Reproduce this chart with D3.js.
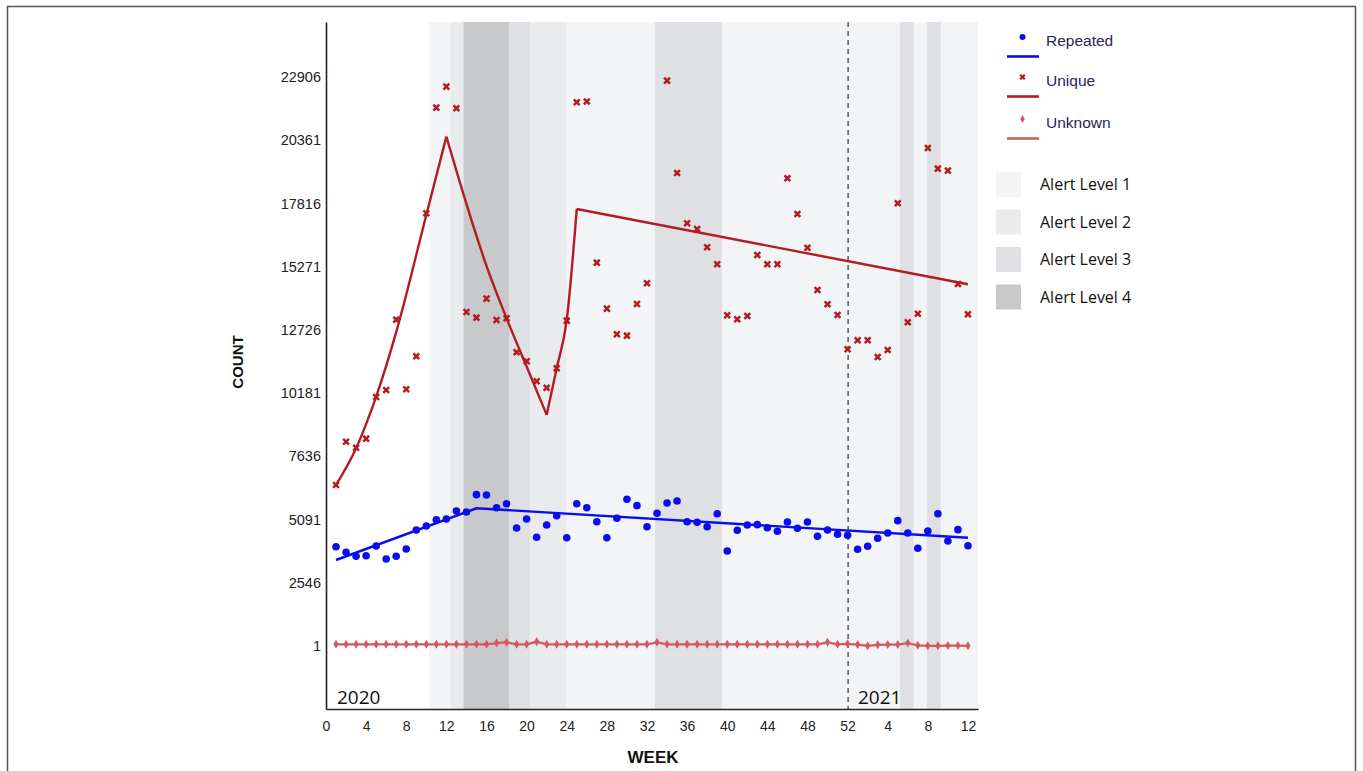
<!DOCTYPE html>
<html>
<head>
<meta charset="utf-8">
<script src="https://cdn.jsdelivr.net/npm/d3@7"></script>
<style>
  html, body { margin: 0; padding: 0; background: #fff; }
  svg { display: block; }
</style>
</head>
<body>
<svg id="chart" width="1363" height="771"></svg>
<script>
// Weekly counts, 2020 week 1 .. 2021 week 12 (index 53 = 2021 week 1)
const weeks = d3.range(1, 65);

const repeated = [
  3999, 3773, 3612, 3636, 4027, 3503, 3612, 3906, 4671, 4832,
  5086, 5114, 5436, 5396, 6093, 6080, 5569, 5730, 4752, 5114,
  4377, 4872, 5247, 4361, 5730, 5569, 5005, 4361, 5142, 5907,
  5650, 4804, 5343, 5758, 5839, 5005, 4981, 4804, 5327, 3826,
  4659, 4872, 4885, 4764, 4619, 4993, 4739, 4993, 4417, 4671,
  4498, 4458, 3894, 4015, 4337, 4550, 5046, 4550, 3934, 4631,
  5327, 4228, 4684, 4039
];

const unique = [
  6483, 8226, 7985, 8348, 10026, 10307, 13138, 10335, 11664, 17421,
  21673, 22518, 21648, 13448, 13219, 13984, 13126, 13193, 11825, 11463,
  10658, 10400, 11181, 13098, 21890, 21917, 15433, 13582, 12550, 12494,
  13770, 14603, null, 22760, 19044, 17019, 16790, 16052, 15368, 13315,
  13154, 13287, 15743, 15368, 15368, 18830, 17393, 16036, 14334, 13758,
  13327, 11946, 12309, 12309, 11636, 11918, 17824, 13033, 13379, 20050,
  19217, 19137, 14575, 13356
];

const unknown = [
  70, 70, 70, 70, 70, 70, 70, 70, 70, 70,
  70, 70, 70, 70, 70, 70, 120, 150, 70, 70,
  175, 70, 70, 70, 70, 70, 70, 70, 70, 70,
  70, 70, 150, 70, 70, 70, 70, 70, 70, 70,
  70, 70, 70, 70, 70, 70, 70, 70, 70, 150,
  70, 90, 60, 10, 50, 60, 60, 120, 30, 10,
  10, 20, 20, 10
];

// Fitted trend knots [week, count]
const repeatedFit = [[1, 3463], [15, 5545], [64, 4361]];
const uniqueFitRise1 = [[1, 6483], [3, 7961], [5, 10038], [7, 12637], [10, 17353], [12, 20506]];
const uniqueFitFall = [[12, 20506], [14, 17800], [16, 15300], [18, 13194], [20, 11250], [22, 9305]];
const uniqueFitRise2 = [[22, 9305], [23, 11185], [24, 13126], [25, 17594]];
const uniqueFitTail = [[25, 17594], [64, 14563]];

// Alert level periods, in weeks
const alertLevels = [1, 2, 3, 4];
const alertNames = ["Alert Level 1", "Alert Level 2", "Alert Level 3", "Alert Level 4"];
const alertColors = ["#f3f4f6", "#eaebed", "#dfe0e4", "#c8c9cb"];
const periodStart = [10.3, 12.4, 13.7, 18.3, 20.4, 24.0, 32.8, 39.5, 57.2, 58.6, 59.9, 61.3];
const periodEnd   = [12.4, 13.7, 18.3, 20.4, 24.0, 32.8, 39.5, 57.2, 58.6, 59.9, 61.3, 65.0];
const periodLevel = [1, 2, 4, 3, 2, 1, 3, 1, 3, 1, 3, 1];

// Axis ticks
const yTicks = [1, 2546, 5091, 7636, 10181, 12726, 15271, 17816, 20361, 22906];
const xTickWeeks = [0, 4, 8, 12, 16, 20, 24, 28, 32, 36, 40, 44, 48, 52, 56, 60, 64];
const xTickLabels = ["0", "4", "8", "12", "16", "20", "24", "28", "32", "36", "40", "44", "48", "52", "4", "8", "12"];
const yearBreak = 52;

const svg = d3.select("#chart");

const x = d3.scaleLinear().domain([0, 65]).range([326, 978]);
const y = d3.scaleLinear().domain([-2535, 25120]).range([709, 22]);

// Outer frame
svg.append("path")
  .attr("d", "M7.5,780 L7.5,6.5 L1355.5,6.5 L1355.5,780")
  .attr("fill", "none").attr("stroke", "#555").attr("stroke-width", 1.5);

// Alert level shading
svg.append("g").selectAll("rect")
  .data(periodStart.map((s, i) => ({ s, e: periodEnd[i], lvl: periodLevel[i] })))
  .join("rect")
  .attr("x", d => x(d.s))
  .attr("width", d => x(d.e) - x(d.s))
  .attr("y", y.range()[1])
  .attr("height", y.range()[0] - y.range()[1])
  .attr("fill", d => alertColors[d.lvl - 1]);

// Year break
svg.append("line")
  .attr("x1", x(yearBreak) + 0.5).attr("x2", x(yearBreak) + 0.5)
  .attr("y1", y.range()[1]).attr("y2", y.range()[0])
  .attr("stroke", "#333").attr("stroke-width", 1.2)
  .attr("stroke-dasharray", "5,4");

svg.append("text").attr("x", 337).attr("y", 704)
  .attr("font-family", "Open Sans, sans-serif").attr("font-size", 19).attr("fill", "#111")
  .text("2020");
svg.append("text").attr("x", 858).attr("y", 704)
  .attr("font-family", "Open Sans, sans-serif").attr("font-size", 19).attr("fill", "#111")
  .text("2021");

// Axes
const yAxis = d3.axisLeft(y).tickValues(yTicks).tickSize(0).tickPadding(5).tickFormat(d => String(d));
const gy = svg.append("g").attr("transform", `translate(${x(0)},0)`).call(yAxis);
gy.select(".domain").attr("stroke", "#222").attr("stroke-width", 1.6);
gy.selectAll("text").attr("font-family", "Liberation Sans, Arial, sans-serif")
  .attr("font-size", 14.5).attr("fill", "#222");

const xAxis = d3.axisBottom(x).tickValues(xTickWeeks).tickSize(0).tickPadding(12)
  .tickFormat((d, i) => xTickLabels[i]);
const gx = svg.append("g").attr("transform", `translate(0,${y.range()[0]})`).call(xAxis);
gx.select(".domain").attr("stroke", "#222").attr("stroke-width", 1.6);
gx.selectAll("text").attr("font-family", "Liberation Sans, Arial, sans-serif")
  .attr("font-size", 14).attr("fill", "#222");

svg.append("text")
  .attr("transform", "translate(243,362) rotate(-90)")
  .attr("text-anchor", "middle")
  .attr("font-family", "Liberation Sans, Arial, sans-serif").attr("font-weight", "bold")
  .attr("font-size", 15).attr("fill", "#111")
  .text("COUNT");
svg.append("text")
  .attr("x", 653).attr("y", 763)
  .attr("text-anchor", "middle")
  .attr("font-family", "Liberation Sans, Arial, sans-serif").attr("font-weight", "bold")
  .attr("font-size", 17).attr("fill", "#111")
  .text("WEEK");

// Colours per series
const blue = "#0b0bf0";
const red = "#b31b22";
const pink = "#d25a5e";

const line = d3.line().x(d => x(d[0])).y(d => y(d[1]));
const curve = d3.line().x(d => x(d[0])).y(d => y(d[1])).curve(d3.curveMonotoneX);

// Unknown: connected markers
const unknownPts = weeks.map((w, i) => [w, unknown[i]]);
svg.append("path").attr("d", line(unknownPts))
  .attr("fill", "none").attr("stroke", pink).attr("stroke-width", 2.2);
svg.append("g").selectAll("path")
  .data(unknownPts).join("path")
  .attr("transform", d => `translate(${x(d[0])},${y(d[1])})`)
  .attr("d", d3.symbol(d3.symbolDiamond, 24))
  .attr("fill", pink);

// Repeated
svg.append("path").attr("d", line(repeatedFit))
  .attr("fill", "none").attr("stroke", blue).attr("stroke-width", 2.4);
svg.append("g").selectAll("circle")
  .data(weeks.map((w, i) => [w, repeated[i]])).join("circle")
  .attr("cx", d => x(d[0])).attr("cy", d => y(d[1])).attr("r", 3.8)
  .attr("fill", blue);

// Unique
[uniqueFitRise1, uniqueFitFall, uniqueFitRise2].forEach(seg => {
  svg.append("path").attr("d", curve(seg))
    .attr("fill", "none").attr("stroke", red).attr("stroke-width", 2.4);
});
svg.append("path").attr("d", line(uniqueFitTail))
  .attr("fill", "none").attr("stroke", red).attr("stroke-width", 2.4);

const cross = (cx, cy, r) => `M${cx - r},${cy - r}L${cx + r},${cy + r}M${cx - r},${cy + r}L${cx + r},${cy - r}`;
svg.append("g").selectAll("path")
  .data(weeks.map((w, i) => [w, unique[i]]).filter(d => d[1] != null)).join("path")
  .attr("d", d => cross(x(d[0]), y(d[1]), 2.9))
  .attr("stroke", red).attr("stroke-width", 2.5).attr("fill", "none");

// Legend: series
const legend = svg.append("g");
const legendSeries = [
  { name: "Repeated", color: blue, kind: "dot", y: 37 },
  { name: "Unique", color: red, kind: "cross", y: 77 },
  { name: "Unknown", color: pink, kind: "diamond", y: 119 }
];
legendSeries.forEach(s => {
  if (s.kind === "dot") {
    legend.append("circle").attr("cx", 1022.5).attr("cy", s.y).attr("r", 3).attr("fill", s.color);
  } else if (s.kind === "cross") {
    legend.append("path").attr("d", cross(1022.5, s.y, 2.3))
      .attr("stroke", s.color).attr("stroke-width", 2.3).attr("fill", "none");
  } else {
    legend.append("path").attr("transform", `translate(1022.5,${s.y})`)
      .attr("d", d3.symbol(d3.symbolDiamond, 18)).attr("fill", s.color);
  }
  legend.append("line")
    .attr("x1", 1007).attr("x2", 1039).attr("y1", s.y + 19.5).attr("y2", s.y + 19.5)
    .attr("stroke", s.color).attr("stroke-width", 2.6);
  legend.append("text")
    .attr("x", 1046).attr("y", s.y + 9)
    .attr("font-family", "Liberation Sans, Arial, sans-serif").attr("font-size", 15.5)
    .attr("fill", "#2a2556")
    .text(s.name);
});

// Legend: alert levels
alertLevels.forEach((lvl, i) => {
  const top = 172 + i * 37.5;
  legend.append("rect")
    .attr("x", 996).attr("y", top).attr("width", 25).attr("height", 25)
    .attr("fill", alertColors[i]);
  legend.append("text")
    .attr("x", 1040).attr("y", top + 18)
    .attr("font-family", "Open Sans, sans-serif").attr("font-size", 16)
    .attr("fill", "#111")
    .text(alertNames[i]);
});
</script>
</body>
</html>
